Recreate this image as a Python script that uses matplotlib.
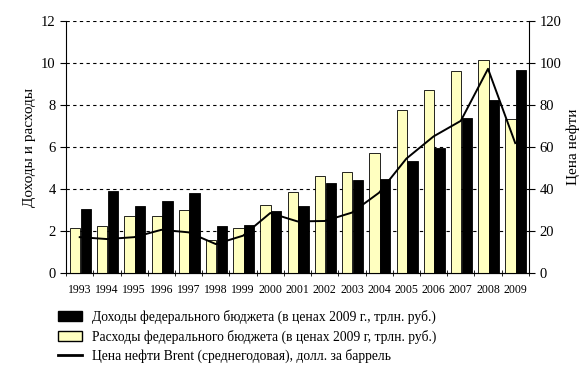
import numpy as np
import matplotlib.pyplot as plt
from matplotlib.patches import Patch
from matplotlib.lines import Line2D

plt.rcParams['font.family'] = ['Liberation Serif', 'DejaVu Serif']

years = ['1993', '1994', '1995', '1996', '1997', '1998', '1999', '2000', '2001',
         '2002', '2003', '2004', '2005', '2006', '2007', '2008', '2009']
revenue = [3.05, 3.89, 3.21, 3.44, 3.81, 2.22, 2.30, 2.94, 3.20,
           4.29, 4.41, 4.49, 5.32, 5.98, 7.41, 8.25, 9.68]
spending = [2.17, 2.22, 2.70, 2.70, 2.98, 1.59, 2.13, 3.25, 3.84,
            4.60, 4.81, 5.71, 7.75, 8.70, 9.63, 10.13, 7.33]
brent = [17.1, 16.2, 17.1, 20.6, 19.4, 13.8, 17.8, 28.6, 24.6,
         24.8, 28.8, 38.3, 54.5, 65.1, 72.5, 97.3, 61.9]

labels = ['Доходы федерального бюджета (в ценах 2009 г., трлн. руб.)',
          'Расходы федерального бюджета (в ценах 2009 г, трлн. руб.)',
          'Цена нефти Brent (среднегодовая), долл. за баррель']

x = np.arange(len(years))

fig = plt.figure(figsize=(5.85, 3.71), dpi=100)
ax = fig.add_axes([0.113, 0.264, 0.791, 0.679])

# yellow = spending (left), black = revenue (right)
ax.bar(x - 0.17, spending, width=0.38, color='#ffffc0', edgecolor='black', linewidth=0.6, zorder=3)
ax.bar(x + 0.22, revenue, width=0.38, color='black', edgecolor='black', linewidth=0.6, zorder=3)

ax.set_xlim(-0.5, len(years) - 0.5)
ax.set_ylim(0, 12)
ax.set_yticks(range(0, 13, 2))
for v in range(2, 13, 2):
    ax.axhline(v, color='black', linestyle=(0, (3, 3)), linewidth=0.8, zorder=1)

ax.set_xticks(x)
ax.set_xticklabels(years, fontsize=8.5)
ax.set_xticks(np.arange(-0.5, len(years), 1), minor=True)
ax.tick_params(axis='x', which='major', length=0, pad=8)
ax.tick_params(axis='x', which='minor', length=4, direction='inout')
ax.tick_params(axis='y', labelsize=10.5, length=4, direction='out')
ax.set_ylabel('Доходы и расходы', fontsize=11)

ax.spines['top'].set_visible(False)
ax.spines['right'].set_visible(False)

ax2 = ax.twinx()
ax2.plot(x, brent, color='black', linewidth=1.4, zorder=4)
ax2.set_ylim(0, 120)
ax2.set_yticks(range(0, 121, 20))
ax2.tick_params(axis='y', labelsize=10.5, length=4, direction='out')
ax2.set_ylabel('Цена нефти', fontsize=11)
ax2.spines['top'].set_visible(False)
ax2.spines['left'].set_visible(False)

handles = [Patch(facecolor='black', edgecolor='black'),
           Patch(facecolor='#ffffc0', edgecolor='black'),
           Line2D([0], [0], color='black', linewidth=2)]
fig.legend(handles, labels, loc='upper left', bbox_to_anchor=(0.087, 0.183),
           frameon=False, fontsize=9.8, handlelength=1.8, handleheight=0.8,
           labelspacing=0.4, borderpad=0, handletextpad=0.75)

fig.savefig('out.png', dpi=100)
